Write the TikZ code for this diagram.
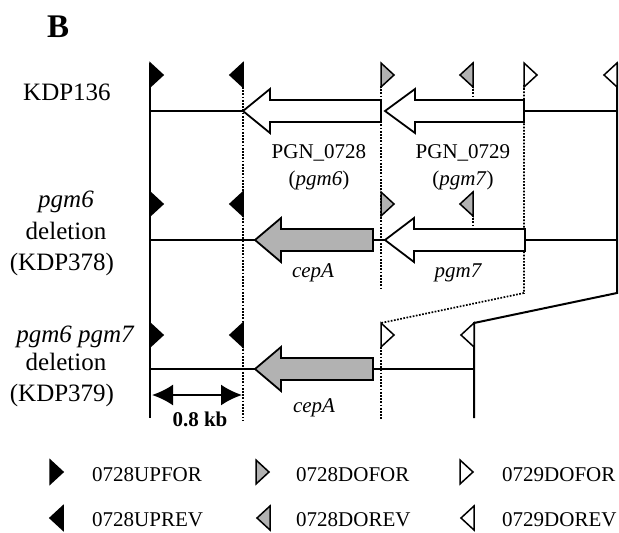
\documentclass[tikz,border=0pt]{standalone}
\usepackage{fontspec}
\setmainfont{Liberation Serif}
\usetikzlibrary{arrows.meta}
\definecolor{gfill}{gray}{0.70}
\newcommand\fwdtri[3]{\filldraw[tri,fill=#3] (#1,#2) -- ++(13,12) -- ++(-13,12) -- cycle;}
\newcommand\revtri[3]{\filldraw[tri,fill=#3] (#1,#2) -- ++(-13,12) -- ++(13,12) -- cycle;}
\newcommand\genearrow[5]{\filldraw[arr,fill=#5] (#1,#2) -- (#3,#2-22) -- (#3,#2-11) -- (#4,#2-11) -- (#4,#2+11) -- (#3,#2+11) -- (#3,#2+22) -- cycle;}
\begin{document}
\begin{tikzpicture}[x=1pt,y=-1pt,
  ln/.style={line width=2pt},
  dotl/.style={line width=1.7pt, dash pattern=on 1.7pt off 1.5pt},
  tri/.style={line width=1.5pt, line join=miter},
  arr/.style={line width=1.8pt, line join=miter},
  lbl/.style={inner sep=0pt, anchor=base, font=\fontsize{25}{30}\selectfont},
  glbl/.style={inner sep=0pt, anchor=base, font=\fontsize{21}{25}\selectfont},
  leg/.style={inner sep=0pt, anchor=base west, font=\fontsize{21}{25}\selectfont}]
\useasboundingbox (0,0) rectangle (619,533);

% title
\node[inner sep=0pt, anchor=base west, font=\fontsize{33}{33}\selectfont\bfseries] (tB) at (47,37) {B};

% coordinates
\coordinate (L1) at (150,111); \coordinate (A1t) at (243,111);
\coordinate (B1r) at (524,111); \coordinate (R1) at (617,111);
\coordinate (L2) at (150,240); \coordinate (C2t) at (255,240);
\coordinate (C2r) at (373,240); \coordinate (P2t) at (385,240);
\coordinate (P2r) at (525,240); \coordinate (R2) at (617,240);
\coordinate (L3) at (150,369); \coordinate (C3t) at (255,369);
\coordinate (C3r) at (373,369); \coordinate (R3) at (474,369);
\coordinate (Vtop) at (150,63); \coordinate (Vbot) at (150,418);
\coordinate (RVtop) at (617,63); \coordinate (RVbot) at (617,293);
\coordinate (MVtop) at (474,323); \coordinate (MVbot) at (474,418);

% dotted guides
\draw[dotl] (243,87) -- (243,420);
\draw[dotl] (381,86) -- (381,288);
\draw[dotl] (381,347) -- (381,420);
\draw[dotl] (524,85) -- (524,293) -- (381,323);
\draw[dotl] (473,86) -- (473,97);
\draw[dotl] (473,215) -- (473,227);

% solid lines
\draw[ln] (Vtop) -- (Vbot);
\draw[ln] (RVtop) -- (RVbot) -- (MVtop) -- (MVbot);
\draw[ln] (L1) -- (A1t);
\draw[ln] (B1r) -- (R1);
\draw[ln] (L2) -- (C2t);
\draw[ln] (C2r) -- (P2t);
\draw[ln] (P2r) -- (R2);
\draw[ln] (L3) -- (C3t);
\draw[ln] (C3r) -- (R3);

% genes
\genearrow{243}{111}{270}{381}{white}
\genearrow{385}{111}{415}{524}{white}
\genearrow{255}{240}{281}{373}{gfill}
\genearrow{385}{240}{414}{525}{white}
\genearrow{255}{369}{281}{373}{gfill}

% primers row 1
\fwdtri{150}{63}{black}
\revtri{243}{63}{black}
\fwdtri{381}{63}{gfill}
\revtri{473}{63}{gfill}
\fwdtri{524}{63}{white}
\revtri{617}{63}{white}
% primers row 2
\fwdtri{150}{192}{black}
\revtri{243}{192}{black}
\fwdtri{381}{192}{gfill}
\revtri{473}{192}{gfill}
% primers row 3
\fwdtri{150}{323}{black}
\revtri{243}{323}{black}
\fwdtri{381}{323}{white}
\revtri{474}{323}{white}

% scale bar
\coordinate (SBl) at (152,395); \coordinate (SBr) at (242,395);
\draw[line width=2pt, {Latex[length=21pt,width=21pt]}-{Latex[length=21pt,width=21pt]}] (SBl) -- (SBr);
\node[inner sep=0pt, anchor=base, font=\fontsize{21}{25}\selectfont\bfseries] (sb) at (200,426) {0.8 kb};

% left labels
\node[lbl] (k136) at (67,100) {KDP136};
\node[lbl] (r2a) at (66,207) {\itshape pgm6};
\node[lbl] (r2b) at (66,239) {deletion};
\node[lbl] (r2c) at (62,270) {(KDP378)};
\node[lbl] (r3a) at (75,342) {\itshape pgm6 pgm7};
\node[lbl] (r3b) at (66,370) {deletion};
\node[lbl] (r3c) at (62,401) {(KDP379)};

% gene labels
\node[glbl] (g1) at (319,158) {PGN\_0728};
\node[glbl] (g1b) at (319,185) {(\textit{pgm6})};
\node[glbl] (g2) at (463,158) {PGN\_0729};
\node[glbl] (g2b) at (463,185) {(\textit{pgm7})};
\node[glbl] (c2) at (313,277) {\itshape cepA};
\node[glbl] (p2) at (458,277) {\itshape pgm7};
\node[glbl] (c3) at (314,412) {\itshape cepA};

% legend
\fwdtri{50}{460}{black}
\fwdtri{256}{460}{gfill}
\fwdtri{460}{460}{white}
\revtri{63}{506}{black}
\revtri{270}{506}{gfill}
\revtri{474}{506}{white}
\node[leg] (l1) at (92,481) {0728UPFOR};
\node[leg] (l2) at (296,481) {0728DOFOR};
\node[leg] (l3) at (502,481) {0729DOFOR};
\node[leg] (l4) at (92,526) {0728UPREV};
\node[leg] (l5) at (296,526) {0728DOREV};
\node[leg] (l6) at (502,526) {0729DOREV};
\end{tikzpicture}
\end{document}
